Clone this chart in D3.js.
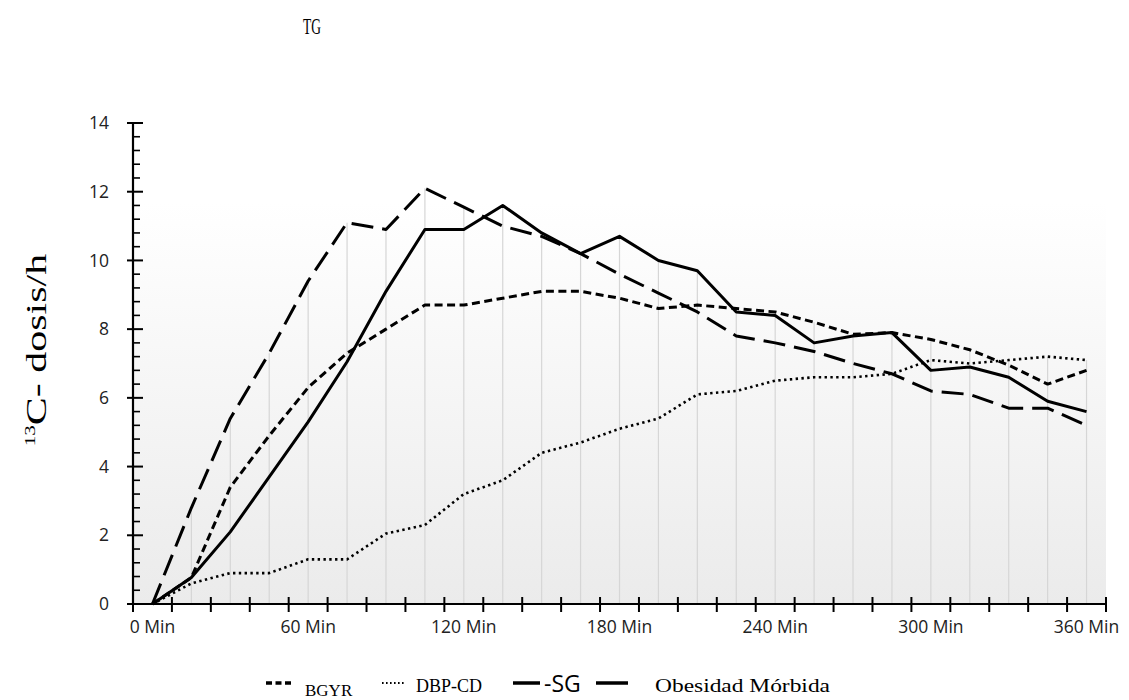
<!DOCTYPE html>
<html>
<head>
<meta charset="utf-8">
<script src="https://cdn.jsdelivr.net/npm/d3@7"></script>
<style>
  html, body { margin: 0; padding: 0; background: #ffffff; }
  svg { display: block; }
</style>
</head>
<body>
<svg id="chart" width="1129" height="700"></svg>
<script>
// Sampling times (minutes) and the 13C dose per hour for each group
const minutes = [0, 15, 30, 45, 60, 75, 90, 105, 120, 135, 150, 165, 180,
                 195, 210, 225, 240, 255, 270, 285, 300, 315, 330, 345, 360];
const tickMinutes = [0, 60, 120, 180, 240, 300, 360];
const yTicks = [0, 2, 4, 6, 8, 10, 12, 14];

const bgyr = [0, 0.77, 3.4, 4.9, 6.3, 7.3, 8.0, 8.7, 8.7, 8.9, 9.1, 9.1, 8.9,
              8.6, 8.7, 8.6, 8.5, 8.2, 7.85, 7.9, 7.7, 7.4, 6.95, 6.4, 6.8];
const dbpcd = [0, 0.6, 0.9, 0.9, 1.3, 1.3, 2.05, 2.3, 3.2, 3.6, 4.4, 4.7, 5.1,
               5.4, 6.1, 6.2, 6.5, 6.6, 6.6, 6.7, 7.1, 7.0, 7.1, 7.2, 7.1];
const sg = [0, 2.8, 5.4, 7.3, 9.4, 11.1, 10.9, 12.1, 11.55, 11.0, 10.7, 10.2, 9.6,
            9.05, 8.5, 7.8, 7.6, 7.35, 7.0, 6.7, 6.2, 6.1, 5.7, 5.7, 5.2];
const obesidad = [0, 0.77, 2.1, 3.7, 5.3, 7.05, 9.1, 10.9, 10.9, 11.6, 10.8, 10.2, 10.7,
                  10.0, 9.7, 8.5, 8.4, 7.6, 7.8, 7.9, 6.8, 6.9, 6.6, 5.9, 5.6];

const seriesNames = ["BGYR", "DBP-CD", "SG", "Obesidad Mórbida"];

const svg = d3.select("#chart");
const plot = { left: 133, right: 1106, top: 123, bottom: 604, shadeTop: 203 };

const x = d3.scaleBand().domain(minutes).range([plot.left, plot.right]).padding(0);
const xc = m => x(m) + x.bandwidth() / 2;
const y = d3.scaleLinear().domain([0, 14]).range([plot.bottom, plot.top]);

// Plot-area shading: white fading to light grey towards the axis
const defs = svg.append("defs");
const grad = defs.append("linearGradient").attr("id", "plotShade")
  .attr("x1", 0).attr("y1", 0).attr("x2", 0).attr("y2", 1);
grad.append("stop").attr("offset", "0%").attr("stop-color", "#ffffff");
grad.append("stop").attr("offset", "100%").attr("stop-color", "#ebebeb");
svg.append("rect")
  .attr("x", plot.left).attr("y", plot.shadeTop)
  .attr("width", plot.right - plot.left).attr("height", plot.bottom - plot.shadeTop)
  .attr("fill", "url(#plotShade)");

// Drop lines from the highest value at each time down to the axis
const allSeries = [bgyr, dbpcd, sg, obesidad];
svg.append("g").selectAll("line")
  .data(minutes.map((m, i) => ({ m, top: d3.max(allSeries, s => s[i]) })))
  .join("line")
  .attr("x1", d => xc(d.m)).attr("x2", d => xc(d.m))
  .attr("y1", d => y(d.top)).attr("y2", y(0))
  .attr("stroke", "#d6d6d6").attr("stroke-width", 1.2);

// Title
svg.append("text")
  .attr("transform", "translate(312,34) scale(0.56,1)")
  .attr("text-anchor", "middle")
  .attr("font-family", "Liberation Serif, Times New Roman, serif")
  .attr("font-size", 24).attr("fill", "#000")
  .text("TG");

// Y axis title with superscript isotope number
const yTitle = svg.append("text")
  .attr("transform", "translate(46,350) rotate(-90) scale(1.4,1)")
  .attr("text-anchor", "middle")
  .attr("font-family", "Liberation Serif, Times New Roman, serif")
  .attr("fill", "#000");
yTitle.append("tspan").attr("font-size", 15).attr("dy", -11).text("13");
yTitle.append("tspan").attr("font-size", 30).attr("dy", 11).text("C- dosis/h");

// Lines
const line = d3.line().x((d, i) => xc(minutes[i])).y(d => y(d));
const styles = [
  { data: bgyr, dash: "8 4.5", width: 3 },
  { data: dbpcd, dash: "2.4 3.4", width: 2.6 },
  { data: sg, dash: "22 9", width: 3 },
  { data: obesidad, dash: null, width: 3 }
];
svg.append("g").selectAll("path")
  .data(styles)
  .join("path")
  .attr("d", d => line(d.data))
  .attr("fill", "none")
  .attr("stroke", "#000")
  .attr("stroke-width", d => d.width)
  .attr("stroke-dasharray", d => d.dash)
  .attr("stroke-linejoin", "round");

// Y axis
const yAxis = svg.append("g");
yAxis.append("line")
  .attr("x1", plot.left).attr("x2", plot.left)
  .attr("y1", y(14)).attr("y2", y(0))
  .attr("stroke", "#000").attr("stroke-width", 2.2);
const minor = d3.range(0, 14.001, 0.4).filter(v => Math.abs(v / 2 - Math.round(v / 2)) > 1e-6);
yAxis.selectAll("line.minor").data(minor).join("line").attr("class", "minor")
  .attr("x1", plot.left).attr("x2", plot.left + 7)
  .attr("y1", d => y(d)).attr("y2", d => y(d))
  .attr("stroke", "#000").attr("stroke-width", 1.6);
yAxis.selectAll("line.major").data(yTicks).join("line").attr("class", "major")
  .attr("x1", plot.left - 6).attr("x2", plot.left + 10)
  .attr("y1", d => y(d)).attr("y2", d => y(d))
  .attr("stroke", "#000").attr("stroke-width", 2);
svg.append("g")
  .attr("transform", `translate(${plot.left - 21},0)`)
  .call(d3.axisLeft(y).tickValues(yTicks).tickSize(0).tickFormat(d3.format("d")))
  .call(g => g.select(".domain").remove())
  .call(g => g.selectAll("text")
    .attr("font-family", "Open Sans, sans-serif")
    .attr("font-size", 17.5).attr("fill", "#222"));

// X axis
const xAxis = svg.append("g");
xAxis.append("line")
  .attr("x1", plot.left).attr("x2", plot.right)
  .attr("y1", y(0)).attr("y2", y(0))
  .attr("stroke", "#000").attr("stroke-width", 2.2);
const bounds = minutes.map(m => x(m)).concat([x(minutes[minutes.length - 1]) + x.bandwidth()]);
xAxis.selectAll("line.tick").data(bounds).join("line").attr("class", "tick")
  .attr("x1", d => d).attr("x2", d => d)
  .attr("y1", y(0) - 7).attr("y2", y(0) + 8)
  .attr("stroke", "#000").attr("stroke-width", 2);
svg.append("g")
  .attr("transform", `translate(0,${y(0) + 14})`)
  .call(d3.axisBottom(x).tickValues(tickMinutes).tickSize(0).tickFormat(d => `${d} Min`))
  .call(g => g.select(".domain").remove())
  .call(g => g.selectAll("text")
    .attr("font-family", "Open Sans, sans-serif")
    .attr("font-size", 17.5).attr("fill", "#222"));

// Legend
const legend = svg.append("g").attr("font-family", "Liberation Serif, Times New Roman, serif").attr("fill", "#000");
const ly = 683;
legend.append("line").attr("x1", 266).attr("x2", 291).attr("y1", ly).attr("y2", ly)
  .attr("stroke", "#000").attr("stroke-width", 3.5).attr("stroke-dasharray", "6 3.5");
legend.append("text").attr("x", 305).attr("y", 696).attr("font-size", 17).text(seriesNames[0]);
legend.append("line").attr("x1", 382).attr("x2", 404).attr("y1", ly).attr("y2", ly)
  .attr("stroke", "#000").attr("stroke-width", 2).attr("stroke-dasharray", "1.6 2.4");
legend.append("text").attr("x", 416).attr("y", 692).attr("font-size", 18).text(seriesNames[1]);
legend.append("line").attr("x1", 513).attr("x2", 540).attr("y1", ly).attr("y2", ly)
  .attr("stroke", "#000").attr("stroke-width", 3.5);
legend.append("text").attr("x", 544).attr("y", 692)
  .attr("font-family", "Open Sans, sans-serif").attr("font-size", 23).text("-" + seriesNames[2]);
legend.append("line").attr("x1", 596).attr("x2", 628).attr("y1", ly).attr("y2", ly)
  .attr("stroke", "#000").attr("stroke-width", 3.5);
legend.append("text").attr("x", 655).attr("y", 692).attr("font-size", 19)
  .attr("textLength", 175).attr("lengthAdjust", "spacingAndGlyphs").text(seriesNames[3]);
</script>
</body>
</html>
